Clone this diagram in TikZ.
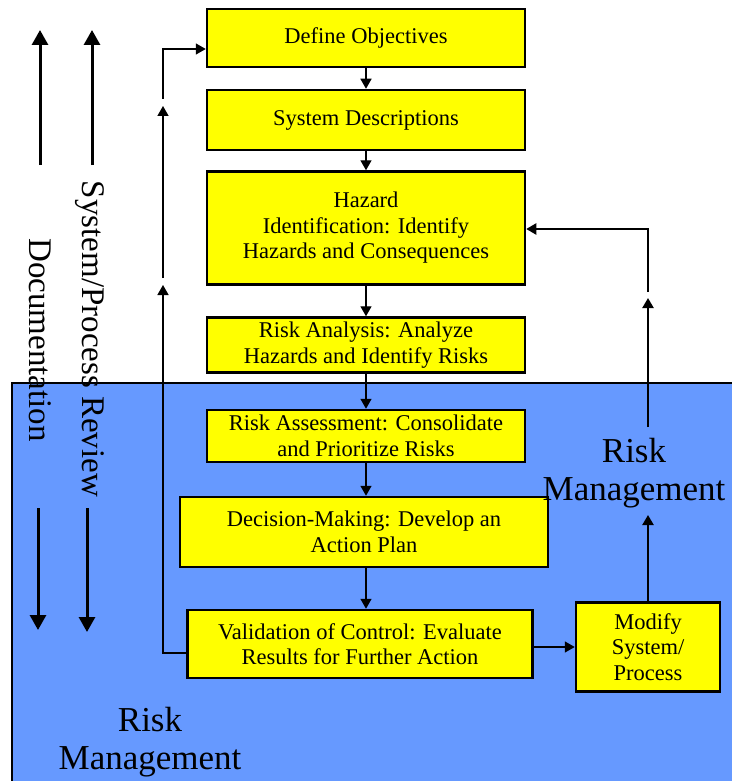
\documentclass[tikz,border=0pt]{standalone}
\usepackage{fontspec}
\setmainfont{Liberation Serif}
\usetikzlibrary{shapes,arrows,arrows.meta,positioning}
\definecolor{rmblue}{HTML}{6699FF}
\definecolor{boxyellow}{RGB}{255,255,0}
\begin{document}
\begin{tikzpicture}[x=1pt,y=-1pt]

  \tikzset{main node/.style={rectangle, draw, fill=boxyellow, line width=2.5pt,
  		text centered, align=center, inner sep=2pt, font=\fontsize{22.5}{25.5}\selectfont}, }
  \tikzset{big text/.style={align=center, font=\fontsize{35}{38}\selectfont}, }
  \tikzset{side text/.style={align=center, rotate=-90, font=\fontsize{33}{36}\selectfont}, }
  \tikzset{linea/.style={-{Triangle[width=11pt,length=10pt]}, line width=1.4pt}, }
  \tikzset{lineb/.style={-{Triangle[width=16pt,length=15pt]}, line width=3pt}, }
\useasboundingbox (0,0) rectangle (731,781);
% blue area
\fill[rmblue] (12,383) rectangle (735,785);
\draw[line width=2pt] (12,785) -- (12,383) -- (735,383);

\node[main node, minimum width=318, minimum height=58] (obj) at (366,38)  {Define Objectives};
\node[main node, minimum width=318, minimum height=60] (sys) at (366,120) {System Descriptions};
\node[main node, minimum width=318, minimum height=113] (haz) at (366,228) {Hazard\\Identification: Identify\\Hazards and Consequences};
\node[main node, minimum width=318, minimum height=55] (ana) at (366,345) {Risk Analysis: Analyze\\Hazards and Identify Risks};
\node[main node, minimum width=318, minimum height=52] (ass) at (366,436) {Risk Assessment: Consolidate\\and Prioritize Risks};
\node[main node, minimum width=368, minimum height=70] (dec) at (364,532) {Decision-Making: Develop an\\Action Plan};
\node[main node, minimum width=345, minimum height=68] (val) at (360,644) {Validation of Control: Evaluate\\Results for Further Action};
\node[main node, minimum width=144, minimum height=89] (mod) at (648,647) {Modify\\System/\\Process};

\node[big text] (rmr) at (634,473) {Risk\\Management};
\node[big text] (rml) at (150,742) {Risk\\Management};
\node[side text] (doc) at (40,340) {Documentation};
\node[side text] (rev) at (90,339) {System/Process Review};

%% review arrows
\coordinate (d1) at (40,165);  \coordinate (d2) at (40,30);
\coordinate (s1) at (92,165);  \coordinate (s2) at (92,30);
\coordinate (d3) at (38,508);  \coordinate (d4) at (38,630);
\coordinate (s3) at (87,508);  \coordinate (s4) at (87,632);
\foreach \x /\y in {d1/d2,s1/s2,d3/d4,s3/s4}
  \draw[lineb] (\x) -- (\y);

\foreach \x /\y in {obj/sys,sys/haz,haz/ana,ana/ass,ass/dec,dec/val}
  \draw[linea] (\x.south -| obj.south) -- (\y.north -| obj.south);
\draw[linea] (val.east |- mod.west) -- (mod.west);

%% feedback left
\coordinate (l1) at (163,285);
\coordinate (l2) at (163,278);
\coordinate (l3) at (163,106);
\coordinate (l4) at (163,99);
\draw[linea] ([yshift=-9pt]val.west) -| (l1);
\draw[linea] (l2) -- (l3);
\draw[linea] (l4) |- ([yshift=-11pt]obj.west);

%% feedback right
\coordinate (r1) at (648,515);
\coordinate (r2) at (648,427);
\coordinate (r3) at (648,298);
\coordinate (r4) at (648,292);
\draw[linea, line width=2.2pt] (mod.north) -- (r1);
\draw[linea, line width=2.2pt] (r2) -- (r3);
\draw[linea, line width=2.2pt] (r4) |- ([yshift=-1pt]haz.east);
%%
\end{tikzpicture}
\end{document}
